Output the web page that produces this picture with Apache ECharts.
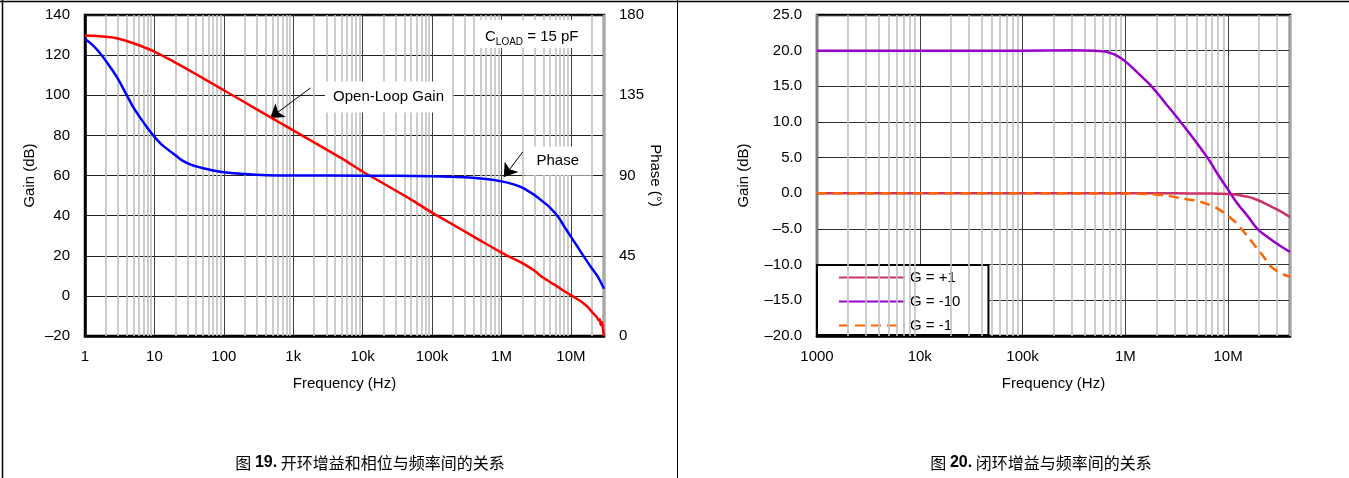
<!DOCTYPE html>
<html><head><meta charset="utf-8">
<script src="https://cdn.jsdelivr.net/npm/echarts@6/dist/echarts.min.js"></script>
<style>html,body{margin:0;padding:0;background:#fff}#c{width:1349px;height:478px}</style>
</head><body><div id="c"></div>
<script>
// ---------- Figure 19: open-loop gain & phase ----------
const gainFreq = [1, 2, 3, 5, 7, 10, 15, 20, 30, 50, 70, 100, 200, 500, 1e3, 2e3, 5e3, 1e4, 2e4, 5e4, 1e5, 2e5, 3.6e5, 5e5, 1e6, 1.5e6, 2e6, 3e6, 3.5e6, 4e6, 4.6e6, 5e6, 6.5e6, 8e6, 1e7, 1.2e7, 1.5e7, 1.8e7, 2.1e7, 2.2e7, 2.3e7, 2.4e7, 2.5e7, 2.6e7, 2.7e7, 2.8e7, 2.9e7, 3e7];
const gainDb = [129.8, 129.2, 128.3, 125.9, 124.0, 121.8, 118.6, 116.3, 112.9, 108.5, 105.6, 102.5, 96.5, 88.5, 82.5, 76.5, 68.5, 62.0, 56.0, 48.0, 41.5, 35.5, 30.4, 27.5, 21.6, 18.5, 16.3, 12.5, 10.5, 9.0, 7.8, 6.9, 4.5, 2.4, 0.4, -1.3, -3.5, -6.0, -8.7, -9.3, -10.2, -10.8, -12.2, -11.6, -14.5, -13.2, -16.5, -20];
const phaseFreq = [1, 1.3, 1.65, 2.2, 2.9, 4, 5, 6.2, 8, 9.6, 13, 18.6, 25, 35, 46, 70, 100, 200, 420, 1e3, 1e4, 1e5, 3e5, 6e5, 1e6, 1.5e6, 2e6, 3e6, 3.7e6, 5e6, 6.5e6, 8e6, 1e7, 1.2e7, 1.54e7, 2e7, 2.44e7, 3e7];
const phaseDeg = [166.5, 163, 158.6, 152, 145, 135, 128, 122.6, 116.5, 112.5, 107, 102.4, 98.5, 95.8, 94.5, 92.8, 91.8, 90.8, 90.2, 90, 89.9, 89.6, 89.0, 88.0, 86.7, 85, 83.2, 79, 76.3, 72, 67, 61.5, 55.7, 51, 44.5, 38, 33.3, 26.5];
const leftXTicks = [1, 10, 100, 1e3, 1e4, 1e5, 1e6, 1e7];
const leftXLabels = ['1', '10', '100', '1k', '10k', '100k', '1M', '10M'];

// ---------- Figure 20: closed-loop gain ----------
const g1Freq = [1e3, 1e4, 1e5, 1e6, 3e6, 6e6, 8e6, 1e7, 1.2e7, 1.57e7, 1.9e7, 2.28e7, 2.7e7, 3.07e7, 3.5e7, 4e7];
const g1Db = [0, 0, 0, 0, 0, -0.02, -0.05, -0.08, -0.2, -0.5, -0.9, -1.4, -1.95, -2.35, -2.8, -3.3];
const g10Freq = [1e3, 1e4, 1e5, 3e5, 5e5, 6e5, 7e5, 8e5, 1e6, 1.3e6, 1.8e6, 2.5e6, 3.5e6, 5e6, 6.5e6, 8e6, 1e7, 1.2e7, 1.57e7, 1.96e7, 2.4e7, 2.8e7, 3.4e7, 4e7];
const g10Db = [20.0, 20.0, 20.0, 20.05, 20.0, 19.9, 19.7, 19.4, 18.5, 17.0, 15.0, 12.5, 9.9, 7.0, 4.7, 2.6, 0.5, -1.2, -3.3, -5.1, -6.1, -6.8, -7.6, -8.2];
const gm1Freq = [1e3, 1e4, 1e5, 5e5, 1e6, 1.7e6, 2.5e6, 3.5e6, 4.8e6, 6e6, 7.6e6, 9.3e6, 1.17e7, 1.35e7, 1.6e7, 1.96e7, 2.3e7, 2.63e7, 3e7, 3.55e7, 4e7];
const gm1Db = [0, 0, 0, -0.01, -0.03, -0.1, -0.3, -0.7, -1.0, -1.4, -2.0, -2.8, -4.0, -5.0, -6.3, -7.9, -9.2, -10.3, -10.9, -11.45, -11.7];
const rightXTicks = [1e3, 1e4, 1e5, 1e6, 1e7];
const rightXLabels = ['1000', '10k', '100k', '1M', '10M'];
const seriesNames = ['G = +1', 'G = -10', 'G = -1'];

const zip = (a, b) => a.map((v, i) => [v, b[i]]);
const FONT = '"Liberation Sans", Arial, sans-serif';
const dash = v => (v < 0 ? '\u2013' + Math.abs(v) : String(v));
function tickLookup(ticks, labels) {
  return function (v) {
    for (let i = 0; i < ticks.length; i++) {
      if (Math.abs(Math.log10(v) - Math.log10(ticks[i])) < 1e-6) return labels[i];
    }
    return '';
  };
}
function minorLines(lo, hi) {
  const out = [];
  for (let d = lo; d < hi; d *= 10) {
    for (let k = 2; k <= 9; k++) { const v = d * k; if (v <= hi * 1.0001) out.push({ xAxis: v }); }
  }
  return out;
}

const chart = echarts.init(document.getElementById('c'), null, { renderer: 'canvas' });
const axisLabelStyle = { fontSize: 15, color: '#000', fontFamily: FONT };
const nameStyle = { fontSize: 15, color: '#000', fontFamily: FONT };
const capRich = {
  n: { fontSize: 16, fontFamily: '"Noto Sans CJK SC", sans-serif', fill: '#000' },
  b: { fontSize: 16, fontWeight: 'bold', fontFamily: FONT, fill: '#000' }
};

chart.setOption({
  animation: false,
  textStyle: { fontFamily: FONT },
  grid: [
    { left: 85, top: 15, width: 519, height: 321, show: true, borderColor: '#000', borderWidth: 2.5, backgroundColor: 'transparent' },
    { left: 817, top: 15, width: 473, height: 321, show: true, borderColor: '#000', borderWidth: 2.5, backgroundColor: 'transparent' }
  ],
  xAxis: [
    { type: 'log', gridIndex: 0, min: 1, max: 3e7, logBase: 10,
      axisLine: { show: true, onZero: false, lineStyle: { color: '#000', width: 2.5 } },
      axisTick: { show: false },
      axisLabel: Object.assign({ margin: 13, formatter: tickLookup(leftXTicks, leftXLabels), showMaxLabel: false }, axisLabelStyle),
      splitLine: { show: true, lineStyle: { color: '#404040', width: 1 } },
      name: 'Frequency (Hz)', nameLocation: 'middle', nameGap: 40, nameTextStyle: nameStyle },
    { type: 'log', gridIndex: 1, min: 1e3, max: 4e7, logBase: 10,
      axisLine: { show: true, onZero: false, lineStyle: { color: '#000', width: 2.5 } },
      axisTick: { show: false },
      axisLabel: Object.assign({ margin: 13, formatter: tickLookup(rightXTicks, rightXLabels), showMaxLabel: false }, axisLabelStyle),
      splitLine: { show: true, lineStyle: { color: '#404040', width: 1 } },
      name: 'Frequency (Hz)', nameLocation: 'middle', nameGap: 40, nameTextStyle: nameStyle }
  ],
  yAxis: [
    { type: 'value', gridIndex: 0, min: -20, max: 140, interval: 20, position: 'left',
      axisLine: { show: true, onZero: false, lineStyle: { color: '#000', width: 2.5 } },
      axisTick: { show: false },
      axisLabel: Object.assign({ margin: 15, formatter: dash }, axisLabelStyle),
      splitLine: { show: true, lineStyle: { color: '#202020', width: 1 } },
      name: 'Gain (dB)', nameLocation: 'middle', nameGap: 48, nameRotate: 90, nameTextStyle: nameStyle },
    { type: 'value', gridIndex: 0, min: 0, max: 180, interval: 45, position: 'right',
      axisLine: { show: true, onZero: false, lineStyle: { color: '#555', width: 2 } },
      axisTick: { show: false },
      axisLabel: Object.assign({ margin: 15 }, axisLabelStyle),
      splitLine: { show: false },
      name: 'Phase (\u00b0)', nameLocation: 'middle', nameGap: 42, nameRotate: -90, nameTextStyle: nameStyle },
    { type: 'value', gridIndex: 1, min: -20, max: 25, interval: 5, position: 'left',
      axisLine: { show: true, onZero: false, lineStyle: { color: '#808080', width: 2 } },
      axisTick: { show: false },
      axisLabel: Object.assign({ margin: 15, formatter: v => (v < 0 ? '\u2013' + Math.abs(v).toFixed(1) : v.toFixed(1)) }, axisLabelStyle),
      splitLine: { show: true, lineStyle: { color: '#303030', width: 1 } },
      name: 'Gain (dB)', nameLocation: 'middle', nameGap: 66, nameRotate: 90, nameTextStyle: nameStyle }
  ],
  legend: {
    data: seriesNames, orient: 'vertical', left: 817, top: 265,
    itemWidth: 66, itemHeight: 14, itemGap: 9,
    padding: [5, 28, 2, 21],
    backgroundColor: '#fff', borderColor: '#000', borderWidth: 2,
    itemStyle: { opacity: 0 },
    textStyle: { fontSize: 15, color: '#000', fontFamily: FONT },
    selectedMode: false
  },
  series: [
    { name: 'minorL', type: 'line', xAxisIndex: 0, yAxisIndex: 0, data: [], z: 1, silent: true,
      markLine: { silent: true, symbol: ['none', 'none'], label: { show: false }, animation: false,
        lineStyle: { color: '#C0C0C0', width: 1.6, type: 'solid' }, data: minorLines(1, 3e7) } },
    { name: 'minorR', type: 'line', xAxisIndex: 1, yAxisIndex: 2, data: [], z: 1, silent: true,
      markLine: { silent: true, symbol: ['none', 'none'], label: { show: false }, animation: false,
        lineStyle: { color: '#C0C0C0', width: 1.6, type: 'solid' }, data: minorLines(1e3, 4e7) } },
    { name: 'Open-Loop Gain', type: 'line', xAxisIndex: 0, yAxisIndex: 0, data: zip(gainFreq, gainDb),
      symbol: 'none', smooth: 0.3, z: 5, lineStyle: { color: '#FF0000', width: 2.5 }, itemStyle: { color: '#FF0000' } },
    { name: 'Phase', type: 'line', xAxisIndex: 0, yAxisIndex: 1, data: zip(phaseFreq, phaseDeg),
      symbol: 'none', smooth: 0.3, z: 5, lineStyle: { color: '#0000FF', width: 2.5 }, itemStyle: { color: '#0000FF' } },
    { name: 'annot', type: 'line', xAxisIndex: 0, yAxisIndex: 0, data: [], z: 6, silent: true,
      markLine: { silent: true, symbol: ['none', 'arrow'], symbolSize: 13, label: { show: false }, animation: false,
        lineStyle: { color: '#000', width: 1, type: 'solid' },
        itemStyle: { color: '#000' },
        data: [
          [{ coord: [1766, 103.6] }, { coord: [466, 88.7] }],
          [{ coord: [2.02e6, 71.7] }, { coord: [1.08e6, 59.2] }]
        ] },
      markPoint: { silent: true, symbol: 'rect', symbolSize: 0, animation: false,
        label: { show: true, position: 'inside', color: '#000', fontSize: 15, fontFamily: FONT, backgroundColor: '#fff', padding: [8, 8] },
        data: [
          { coord: [23600, 99.1], label: { formatter: 'Open-Loop Gain' } },
          { coord: [6.47e6, 67.2], label: { formatter: 'Phase', padding: [7, 12] } },
          { coord: [2.73e6, 130.5], label: { formatter: '{a|C}{b|LOAD}{a| = 15 pF}', padding: [4, 8],
            rich: { a: { fontSize: 15, color: '#000', fontFamily: FONT, lineHeight: 20, verticalAlign: 'bottom' },
                    b: { fontSize: 10, color: '#000', fontFamily: FONT, lineHeight: 20, verticalAlign: 'bottom', padding: [0, 0, -3, 0] } } } }
        ] } },
    { name: seriesNames[0], type: 'line', xAxisIndex: 1, yAxisIndex: 2, data: zip(g1Freq, g1Db),
      symbol: 'none', smooth: 0.3, z: 5, lineStyle: { color: '#CC3366', width: 2.5 }, itemStyle: { color: '#CC3366' } },
    { name: seriesNames[1], type: 'line', xAxisIndex: 1, yAxisIndex: 2, data: zip(g10Freq, g10Db),
      symbol: 'none', smooth: 0.3, z: 5, lineStyle: { color: '#9900CC', width: 2.5 }, itemStyle: { color: '#9900CC' } },
    { name: seriesNames[2], type: 'line', xAxisIndex: 1, yAxisIndex: 2, data: zip(gm1Freq, gm1Db),
      symbol: 'none', smooth: 0.3, z: 5, lineStyle: { color: '#FF6600', width: 2.5, type: [10, 6] }, itemStyle: { color: '#FF6600' } }
  ],
  graphic: [
    { type: 'line', shape: { x1: 0, y1: 1.5, x2: 1349, y2: 1.5 }, style: { stroke: '#000', lineWidth: 1.5 }, silent: true },
    { type: 'line', shape: { x1: 2.5, y1: 0, x2: 2.5, y2: 478 }, style: { stroke: '#000', lineWidth: 1.5 }, silent: true },
    { type: 'line', shape: { x1: 677.5, y1: 0, x2: 677.5, y2: 478 }, style: { stroke: '#000', lineWidth: 1 }, silent: true },
    { type: 'text', silent: true, style: {
        x: 370, y: 463, align: 'center', verticalAlign: 'middle',
        text: '{n|图 }{b|19.}{n| 开环增益和相位与频率间的关系}', rich: capRich } },
    { type: 'text', silent: true, style: {
        x: 1041, y: 463, align: 'center', verticalAlign: 'middle',
        text: '{n|图 }{b|20.}{n| 闭环增益与频率间的关系}', rich: capRich } }
  ]
});
</script>
</body></html>
